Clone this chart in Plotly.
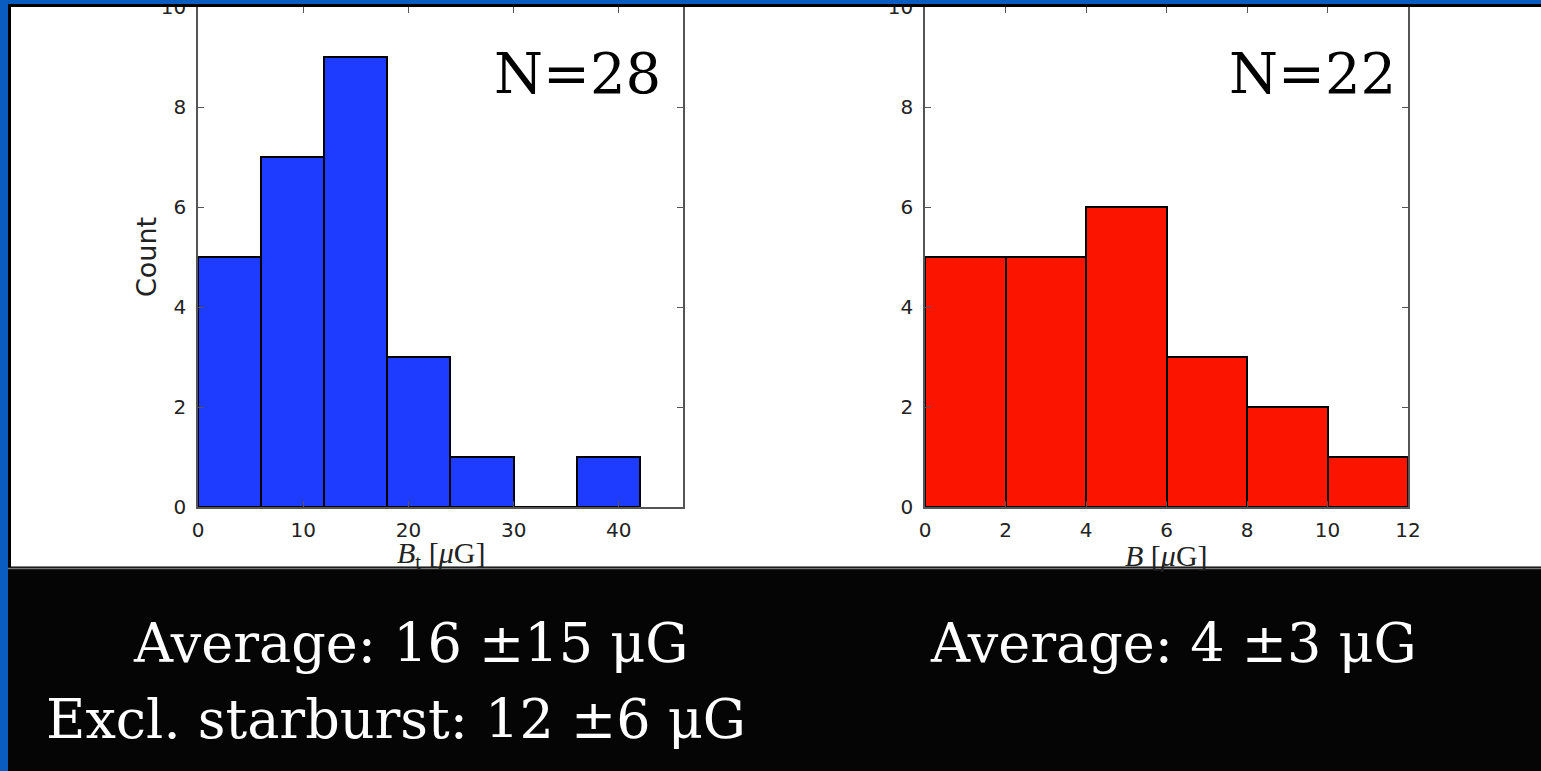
import plotly.graph_objects as go

# Histogram data: bin edges and counts for each sample
bt_edges = [0, 6, 12, 18, 24, 30, 36, 42]
bt_counts = [5, 7, 9, 3, 1, 0, 1]
b_edges = [0, 2, 4, 6, 8, 10, 12]
b_counts = [5, 5, 6, 3, 2, 1]

left_label = "N=28"
right_label = "N=22"
left_stats = ["Average: 16 \u00b115 \u03bcG", "Excl. starburst: 12 \u00b16 \u03bcG"]
right_stats = ["Average: 4 \u00b13 \u03bcG"]
y_title = "Count"
left_x_title = "<i>B</i><sub>t</sub> [<i>\u03bc</i>G]"
right_x_title = "<i>B</i> [<i>\u03bc</i>G]"

W, H = 1541, 771


def px(x):
    return x / W


def py(y):
    return 1 - y / H


def bars(edges, counts, color, xa, ya):
    centers = [(a + b) / 2 for a, b in zip(edges[:-1], edges[1:])]
    widths = [b - a for a, b in zip(edges[:-1], edges[1:])]
    return go.Bar(
        x=centers, y=counts, width=widths,
        marker=dict(color=color, line=dict(color="black", width=2)),
        xaxis=xa, yaxis=ya, showlegend=False, hoverinfo="skip",
    )


fig = go.Figure()
fig.add_trace(bars(bt_edges, bt_counts, "#1e3cff", "x", "y"))
fig.add_trace(bars(b_edges, b_counts, "#fb1400", "x2", "y2"))

tickfont = dict(family="DejaVu Sans", size=20, color="#222")
axis_common = dict(
    showline=True, linecolor="#555", linewidth=1.5, mirror="ticks",
    ticks="inside", ticklen=6, tickcolor="#555", tickwidth=1.2,
    showgrid=False, zeroline=False, tickfont=tickfont,
    ticklabeloverflow="allow", automargin=False,
)

bottom, top = 507, 7
fig.update_layout(
    width=W, height=H,
    margin=dict(l=0, r=0, t=0, b=0, autoexpand=False),
    paper_bgcolor="#0b5cc0",
    plot_bgcolor="white",
    bargap=0,
    xaxis=dict(domain=[px(198), px(683)], range=[0, 46.1], dtick=10, tick0=0,
               anchor="y", ticklabelstandoff=4, **axis_common),
    yaxis=dict(domain=[py(bottom), py(top)], range=[0, 10], dtick=2, anchor="x",
               ticklabelstandoff=6, **axis_common),
    xaxis2=dict(domain=[px(925), px(1408)], range=[0, 12], dtick=2, tick0=0,
                anchor="y2", ticklabelstandoff=4, **axis_common),
    yaxis2=dict(domain=[py(bottom), py(top)], range=[0, 10], dtick=2, anchor="x2",
                ticklabelstandoff=6, **axis_common),
)

# Slide panels: white plot panel with a thin black frame, black caption band
shapes = [
    dict(type="rect", xref="paper", yref="paper", layer="below",
         x0=px(9.5), x1=px(1560), y0=py(568), y1=py(5.5),
         fillcolor="white", line=dict(color="black", width=3)),
    dict(type="rect", xref="paper", yref="paper", layer="below",
         x0=px(8), x1=px(1560), y0=py(790), y1=py(568),
         fillcolor="#050505", line=dict(width=0)),
    dict(type="line", xref="paper", yref="paper", layer="below",
         x0=px(8), x1=px(1560), y0=py(568.5), y1=py(568.5),
         line=dict(color="#777", width=1.5)),
    # top edge of the frame trims the tallest tick label
    dict(type="rect", xref="paper", yref="paper", layer="above",
         x0=px(0), x1=px(1560), y0=py(4), y1=py(-10),
         fillcolor="#0b5cc0", line=dict(width=0)),
    dict(type="line", xref="paper", yref="paper", layer="above",
         x0=px(8), x1=px(1560), y0=py(5.5), y1=py(5.5),
         line=dict(color="black", width=3)),
]
fig.update_layout(shapes=shapes)

label_font = dict(family="DejaVu Serif", size=56, color="black")
stat_font = dict(family="DejaVu Serif", size=54, color="white")
xtitle_font = dict(family="Liberation Serif", size=30, color="#222")
ytitle_font = dict(family="DejaVu Sans", size=27, color="#222")
annotations = [
    dict(text=left_label, x=px(577), y=py(73), font=label_font),
    dict(text=right_label, x=px(1312), y=py(73), font=label_font),
    dict(text=left_stats[0], x=px(410), y=py(643), font=stat_font),
    dict(text=left_stats[1], x=px(396), y=py(719), font=stat_font),
    dict(text=right_stats[0], x=px(1173), y=py(643), font=stat_font),
    # axis titles
    dict(text=y_title, x=px(147), y=py(257), font=ytitle_font, textangle=-90),
    dict(text=left_x_title, x=px(441), y=py(555), font=xtitle_font),
    dict(text=right_x_title, x=px(1166), y=py(555), font=xtitle_font),
]
for a in annotations:
    a.update(xref="paper", yref="paper", showarrow=False,
             xanchor="center", yanchor="middle")
fig.update_layout(annotations=annotations)

fig.write_html("out.html")
